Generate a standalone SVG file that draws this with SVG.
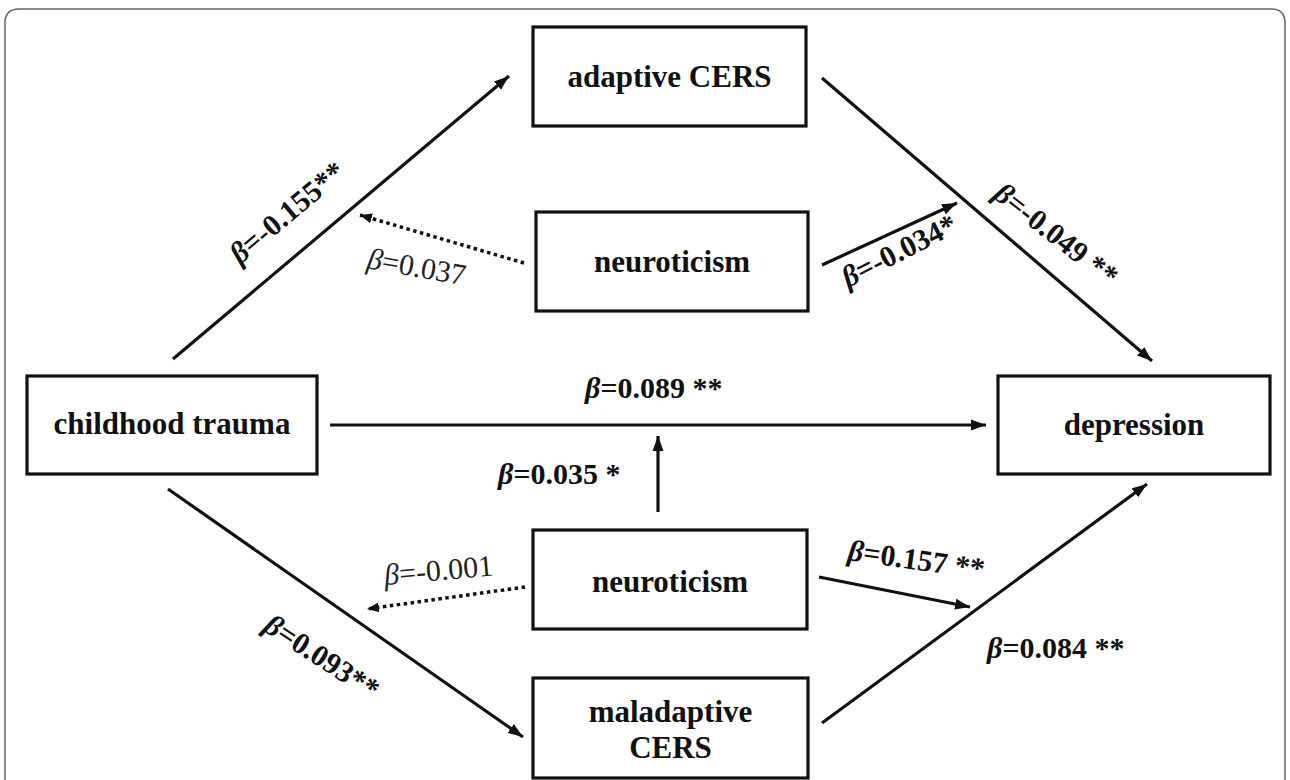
<svg xmlns="http://www.w3.org/2000/svg" width="1290" height="780" viewBox="0 0 1290 780">
<style>
text{font-family:'Liberation Serif','DejaVu Serif','Times New Roman',serif}
.box{fill:#fff;stroke:#111;stroke-width:3.2}
.nt{font-weight:bold;font-size:31px;fill:#111;text-anchor:middle}
.lb{font-weight:bold;font-size:30px;fill:#111}
.ln{font-weight:normal;font-size:30px;fill:#222}
.b{font-style:italic}
.edge{stroke:#111;stroke-width:3.2;fill:none;marker-end:url(#ah)}
.dot{stroke:#111;stroke-width:3.5;fill:none;stroke-dasharray:3.5 3.5;marker-end:url(#ahs)}
</style>
<defs>
<marker id="ah" markerUnits="userSpaceOnUse" markerWidth="16" markerHeight="12" refX="15" refY="6" orient="auto">
<path d="M0,0.5 L15,6 L0,11.5 z" fill="#111"/>
</marker>
<marker id="ahs" markerUnits="userSpaceOnUse" markerWidth="14" markerHeight="12" refX="12" refY="6" orient="auto">
<path d="M0,1 L12,6 L0,11 z" fill="#111"/>
</marker>
</defs>
<rect width="1290" height="780" fill="#fff"/>
<path d="M5,780 V23 Q5,9 19,9 H1271 Q1285,9 1285,23 V780" fill="none" stroke="#666" stroke-width="1.5"/>
<g id="connectors">
<line class="edge" x1="173" y1="359" x2="509" y2="76"/>
<line class="edge" x1="822" y1="78" x2="1152" y2="361"/>
<line class="edge" x1="330" y1="425" x2="986" y2="425"/>
<line class="edge" x1="168" y1="489" x2="523" y2="737"/>
<line class="edge" x1="822" y1="723" x2="1147" y2="484"/>
<line class="edge" x1="658" y1="512" x2="658" y2="436"/>
<line class="edge" x1="822" y1="265" x2="957" y2="203"/>
<line class="edge" x1="819" y1="577" x2="970" y2="607"/>
<line class="dot" x1="524" y1="263" x2="360" y2="215"/>
<line class="dot" x1="525" y1="587" x2="367" y2="609"/>
</g>
<g id="labels">
<text class="lb" transform="translate(240,265) rotate(-40)"><tspan class="b">β</tspan>=-0.155**</text>
<text class="ln" transform="translate(366,268) rotate(10)"><tspan class="b">β</tspan>=0.037</text>
<text class="lb" transform="translate(848,288) rotate(-27)"><tspan class="b">β</tspan>=-0.034*</text>
<text class="lb" transform="translate(992,197) rotate(38)"><tspan class="b">β</tspan>=-0.049 **</text>
<text class="lb" x="585" y="398"><tspan class="b">β</tspan>=0.089 **</text>
<text class="lb" x="498" y="484"><tspan class="b">β</tspan>=0.035 *</text>
<text class="ln" transform="translate(385,585) rotate(-5)"><tspan class="b">β</tspan>=-0.001</text>
<text class="lb" transform="translate(847,560) rotate(8)"><tspan class="b">β</tspan>=0.157 **</text>
<text class="lb" x="987" y="658"><tspan class="b">β</tspan>=0.084 **</text>
<text class="lb" transform="translate(262,630) rotate(33)"><tspan class="b">β</tspan>=0.093**</text>
</g>
<g id="adaptive"><rect class="box" x="533" y="27" width="273" height="99"/><text class="nt" x="669.5" y="87">adaptive CERS</text></g>
<g id="neuroticism-top"><rect class="box" x="536" y="212" width="272" height="99"/><text class="nt" x="672" y="272">neuroticism</text></g>
<g id="childhood"><rect class="box" x="27" y="376" width="290" height="98"/><text class="nt" x="172" y="434">childhood trauma</text></g>
<g id="depression"><rect class="box" x="998" y="376" width="272" height="98"/><text class="nt" x="1134" y="435">depression</text></g>
<g id="neuroticism-bottom"><rect class="box" x="533" y="530" width="274" height="99"/><text class="nt" x="670" y="592">neuroticism</text></g>
<g id="maladaptive"><rect class="box" x="533" y="678" width="275" height="100"/><text class="nt" x="670.5" y="722">maladaptive</text><text class="nt" x="670.5" y="758">CERS</text></g>
</svg>
